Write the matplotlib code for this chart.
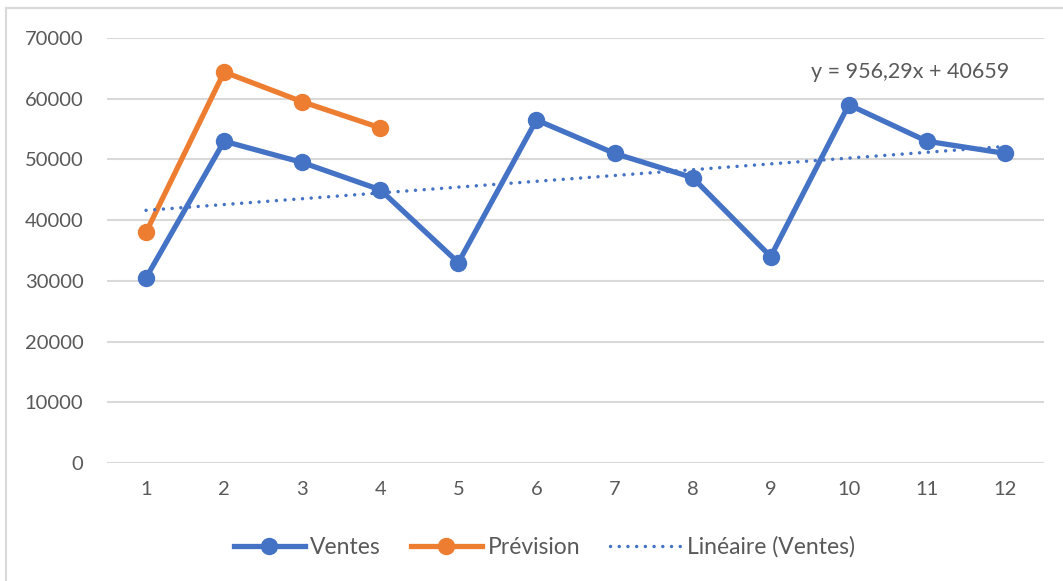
import numpy as np
import matplotlib.pyplot as plt
from matplotlib.lines import Line2D

# %% Data
mois = [1, 2, 3, 4, 5, 6, 7, 8, 9, 10, 11, 12]
ventes = [30500, 53000, 49500, 45000, 33000, 56500, 51000, 47000, 34000, 59000, 53000, 51000]
mois_prev = [1, 2, 3, 4]
prevision = [38000, 64400, 59500, 55200]
pente, origine = 956.29, 40659
y_ticks = [0, 10000, 20000, 30000, 40000, 50000, 60000, 70000]

bleu = '#4472C4'
orange = '#ED7D31'
gris_txt = '#595959'
gris_grille = '#D9D9D9'

plt.rcParams['font.family'] = ['Lato', 'DejaVu Sans']

# %% Figure
fig = plt.figure(figsize=(10.63, 5.81), dpi=100)
ax = fig.add_axes([107/1063, 1 - 463/581, (1044 - 107)/1063, (463 - 38)/581])

x = np.array(mois)
tendance = pente * x + origine

ax.plot(mois, ventes, color=bleu, lw=3.8, marker='o', ms=11.5, label='Ventes', zorder=3)
ax.plot(mois_prev, prevision, color=orange, lw=3.8, marker='o', ms=11.5, label='Prévision', zorder=3)
ax.plot(x, tendance, color=bleu, lw=2.5, linestyle=(0, (0.01, 2.5)),
        dash_capstyle='round', label='Linéaire (Ventes)', zorder=4)

ax.text(10.78, 64400, 'y = 956,29x + 40659', color=gris_txt, fontsize=15.5,
        ha='center', va='center')

ax.set_xlim(0.5, 12.5)
ax.set_ylim(0, 70000)
ax.set_xticks(mois)
ax.set_yticks(y_ticks)
ax.set_yticklabels([str(v) for v in y_ticks])
ax.tick_params(length=0, colors=gris_txt, labelsize=14.5)
ax.tick_params(axis='y', pad=17)
ax.tick_params(axis='x', pad=13)
ax.grid(axis='y', color=gris_grille, lw=1.5)
ax.set_axisbelow(True)
for s in ax.spines.values():
    s.set_visible(False)

leg = fig.legend(loc='center', bbox_to_anchor=(0.512, 1 - 547/581), ncol=3, frameon=False,
                 fontsize=16.5, handlelength=3.1, handletextpad=0.25, columnspacing=1.3,
                 labelcolor=gris_txt)

# bordure de la zone graphique
fig.add_artist(Line2D([6/1063, 1], [1 - 8/581, 1 - 8/581], color=gris_grille, lw=1.5))
fig.add_artist(Line2D([6/1063, 6/1063], [0, 1 - 8/581], color=gris_grille, lw=1.5))

fig.savefig('out.png', dpi=100)
